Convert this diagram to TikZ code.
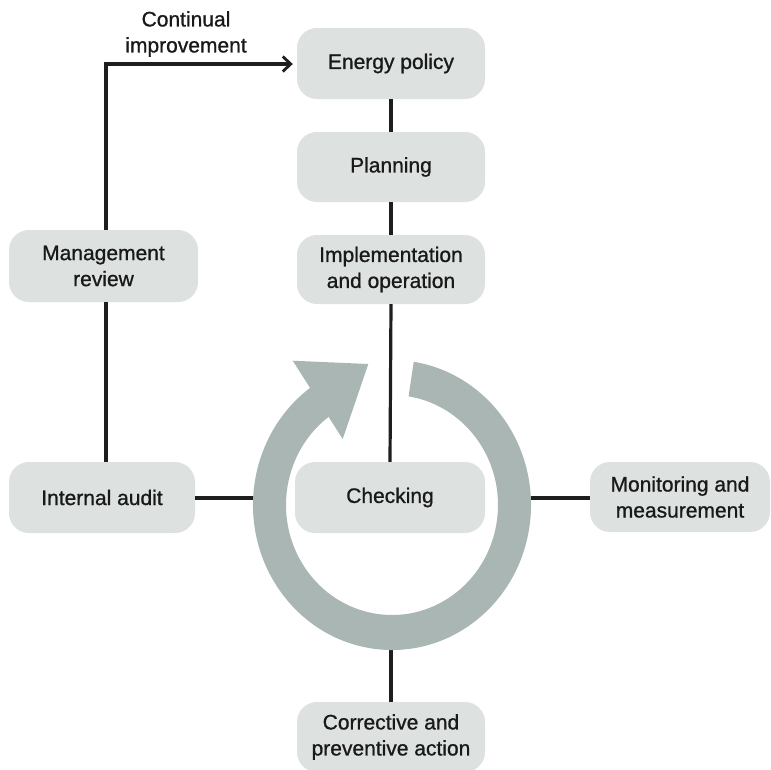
\documentclass[tikz,border=0pt]{standalone}
\usepackage{fontspec}
\setmainfont{Liberation Sans}[FakeBold=0.9]
\usetikzlibrary{arrows.meta,calc}
\definecolor{boxfill}{RGB}{221,225,223}
\definecolor{ringcol}{RGB}{170,182,179}
\definecolor{linecol}{RGB}{30,30,30}
\begin{document}
\begin{tikzpicture}[x=1pt,y=-1pt,
  box/.style={fill=boxfill, rounded corners=20pt, align=center,
    font=\fontsize{21}{26}\selectfont, inner sep=0pt,
    minimum width=188pt, minimum height=71pt, text=black!90},
  conn/.style={draw=linecol, line width=3.2pt},
  lbl/.style={align=center, font=\fontsize{21}{26}\selectfont, text=black!90, inner sep=0pt}]
\useasboundingbox (0,0) rectangle (771,769);

% nodes
\node[box] (ep) at (391,63.5) {Energy policy};
\node[box, minimum height=70pt] (pl) at (391,167) {Planning};
\node[box, minimum height=69pt] (im) at (391,269.5) {Implementation\\and operation};
\node[box, minimum width=189pt, minimum height=72pt] (mr) at (103.5,266) {Management\\review};
\node[box, minimum width=186pt] (ia) at (102,497.5) {Internal audit};
\node[box, minimum width=190pt] (ch) at (390,497.5) {Checking};
\node[box, minimum width=180pt, minimum height=70pt] (mm) at (680,497) {Monitoring and\\measurement};
\node[box, minimum height=70pt] (ca) at (391,737) {Corrective and\\preventive action};
\node[lbl] (ci) at (186,34) {Continual\\improvement};

% connectors behind ring
\coordinate (ringL) at (262,498);
\coordinate (ringR) at (522,498);
\coordinate (ringB) at (391,640);
\coordinate (corner) at (106,64);
\draw[conn] (ep.south) -- (pl.north);
\draw[conn] (pl.south) -- (im.north);
\draw[conn] (im.south) -- (ch.north);
\draw[conn] (mr.south -| corner) -- (ia.north -| corner);
\draw[conn, -{Straight Barb[length=8pt,width=15pt,line width=2.8pt]}]
  (mr.north -| corner) -- (corner) -- ([xshift=-4pt]ep.west |- corner);
\draw[conn] (ia.east |- ringL) -- (ringL);
\draw[conn] (ringR) -- (mm.west |- ringR);
\draw[conn] (ringB) -- (ca.north);

% ring
\fill[ringcol] (392,505) ++(-81:139 and 145)
  arc[start angle=-81, end angle=235, x radius=139, y radius=145]
  -- ($(392,505)+(235:106 and 110)$)
  arc[start angle=235, end angle=-81, x radius=106, y radius=110] -- cycle;
\fill[ringcol] (292.7,360.7) -- (368.3,364) -- (342.7,439) -- cycle;
\end{tikzpicture}
\end{document}
